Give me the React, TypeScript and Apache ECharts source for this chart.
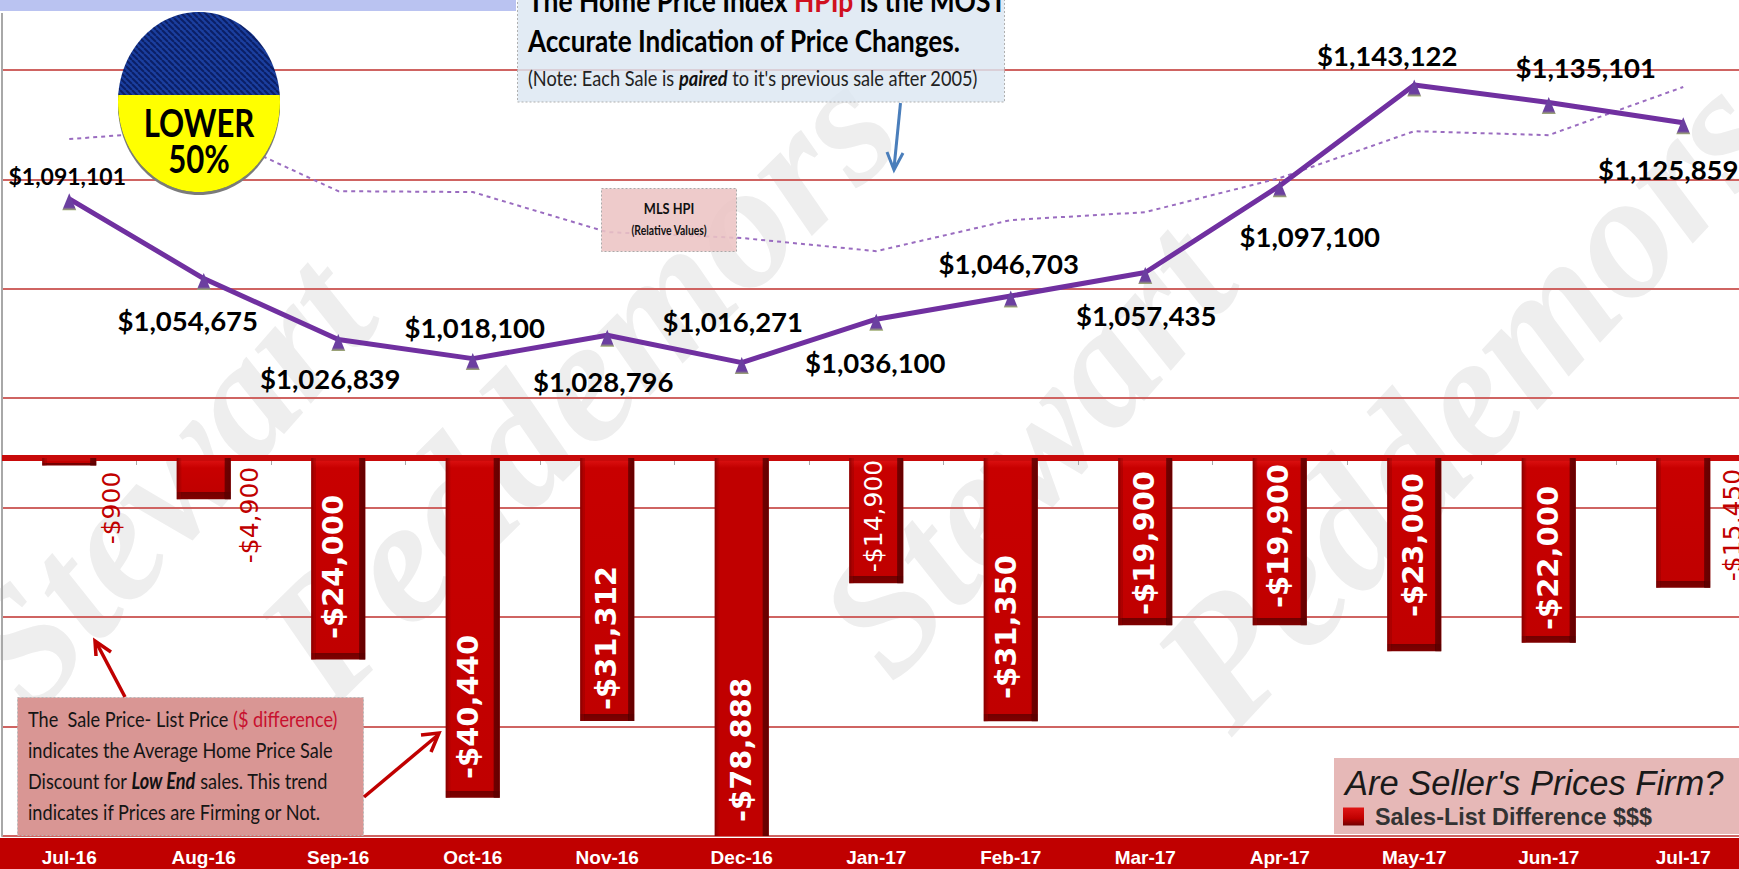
import React, { useEffect, useRef } from "react";
import * as echarts from "echarts";

const categories = ["Jul-16","Aug-16","Sep-16","Oct-16","Nov-16","Dec-16","Jan-17","Feb-17","Mar-17","Apr-17","May-17","Jun-17","Jul-17"];
const medianPrice = [1091101,1054675,1026839,1018100,1028796,1016271,1036100,1046703,1057435,1097100,1143122,1135101,1125859];
const hpiRelative = [1118400,1123000,1094600,1094200,1075900,1073200,1067200,1081400,1085000,1100600,1122000,1120200,1142200];
const saleListDiff = [-900,-4900,-24000,-40440,-31312,-78888,-14900,-31350,-19900,-19900,-23000,-22000,-15450];

// label placement, kept apart from the values
const priceLabelOffsets = [[-2,-26],[-16,39],[-8,36],[2,-34],[-4,43],[-9,-44],[-1,40],[-2,-36],[1,40],[30,48],[-27,-32],[37,-38],[-15,44]];
const priceLabelSizes = [23,27.5,27.5,27.5,27.5,27.5,27.5,27.5,27.5,27.5,27.5,27.5,27.5];
const diffLabelAnchors = [-5950,-6790,-12976,-29640,-21430,-34760,-6900,-20120,-10120,-9290,-10360,-11900,-7980];
const diffLabelDx = [42,46,-5,-5,-1,-1,-3,-5,-1,-2,-1,-1,49];
const diffLabelStyle = ["outS","outS","big","big","big","big","inS","big","big","big","big","big","outS"];

const money = (v: number) => (v < 0 ? "-$" : "$") + Math.abs(v).toLocaleString("en-US");

const DIFF_MIN = -45000;
const DIFF_MAX = 52976;
const PX_PER_DOLLAR = 823 / (DIFF_MAX - DIFF_MIN);

function barFill(v: number) {
  if (v <= DIFF_MIN) {
    const h = -DIFF_MIN * PX_PER_DOLLAR;
    return new echarts.graphic.LinearGradient(0, 0, 0, 1, [
      { offset: 0, color: "#e01515" }, { offset: 10 / h, color: "#c00000" }, { offset: 1, color: "#c00000" },
    ]);
  }
  const h = -v * PX_PER_DOLLAR;
  const top = Math.min(0.3, 10 / h);
  const bot = Math.max(0.7, 1 - 7 / h);
  return new echarts.graphic.LinearGradient(0, 0, 0, 1, [
    { offset: 0, color: "#e01515" }, { offset: top, color: "#c80000" }, { offset: bot, color: "#c00000" },
    { offset: bot, color: "#720000" }, { offset: 1, color: "#800000" },
  ]);
}

function hatch() {
  const c = document.createElement("canvas");
  c.width = 6; c.height = 6;
  const g = c.getContext("2d")!;
  g.fillStyle = "#1b3f9f"; g.fillRect(0, 0, 6, 6);
  g.strokeStyle = "#0b1f66"; g.lineWidth = 2;
  for (const o of [-6, 0, 6]) { g.beginPath(); g.moveTo(o, 0); g.lineTo(o + 6, 6); g.stroke(); }
  return c;
}

const LATO = "Lato, 'Open Sans', sans-serif";
const txt = (text: string, x: number, y: number, font: string, fill: string, extra: any = {}, z = 100) => ({
  type: "text", z, x, y, rotation: extra.rotation || 0, scaleX: extra.scaleX || 1, scaleY: extra.scaleY || 1,
  style: { text, font, fill, textAlign: extra.align || "left", textVerticalAlign: "middle", rich: extra.rich },
});
const arrow = (pts: number[][], head: number[][], stroke: string, w: number) => [
  { type: "line", z: 90, shape: { x1: pts[0][0], y1: pts[0][1], x2: pts[1][0], y2: pts[1][1] }, style: { stroke, lineWidth: w } },
  { type: "polyline", z: 90, shape: { points: head }, style: { stroke, lineWidth: w, fill: "none" } },
];

export default function App() {
  const ref = useRef<HTMLDivElement>(null);
  useEffect(() => {
    const chart = echarts.init(ref.current!, undefined, { renderer: "svg" });
    const wmS = "italic bold 170px 'Liberation Serif', serif";
    const wmP = "italic bold 178px 'Liberation Serif', serif";
    const wmc = "#eeeeee";
    const note = { a: { fontSize: 21, fontFamily: "Lato", fill: "#222" },
                   i: { fontSize: 21, fontFamily: "Lato", fontStyle: "italic", fontWeight: "bold", fill: "#111" } };
    const box = { a: { fontSize: 22, fontFamily: "Lato", fill: "#151515" }, r: { fontSize: 22, fontFamily: "Lato", fill: "#c8102e" },
                  i: { fontSize: 22, fontFamily: "Lato", fontStyle: "italic", fontWeight: "bold", fill: "#111" } };
    const elements: any[] = [
      txt("Stewart", 166, 482, wmS, wmc, { rotation: 0.85, align: "center" }, -10),
      txt("Peddemors", 577, 383, wmP, wmc, { rotation: 0.78, align: "center" }, -10),
      txt("Stewart", 1026, 449, wmS, wmc, { rotation: 0.85, align: "center" }, -10),
      txt("Peddemors", 1464, 400, wmP, wmc, { rotation: 0.82, align: "center" }, -10),

      { type: "rect", z: -5, shape: { x: 0, y: 838, width: 1739, height: 31 }, style: { fill: "#c00000" } },

      { type: "rect", z: 80, shape: { x: 0, y: 0, width: 525, height: 13 }, style: { fill: "#ffffff" } },
      { type: "rect", z: 81, shape: { x: 0, y: 0, width: 516, height: 11 }, style: { fill: "#bac3f1" } },

      { type: "rect", z: 82, shape: { x: 517.5, y: -2, width: 487, height: 104 },
        style: { fill: "rgba(220,230,242,0.82)", stroke: "#b0b0b0", lineWidth: 1, lineDash: [2, 2] } },
      txt("{a|The Home Price Index }{r|HPIp}{a| is the MOST}", 528, 0, `bold 30px ${LATO}`, "#000", {
        scaleX: 0.88,
        rich: { a: { fontSize: 30, fontWeight: "bold", fontFamily: "Lato", fill: "#000" },
                r: { fontSize: 30, fontWeight: "bold", fontFamily: "Lato", fill: "#d01020" } } }),
      txt("Accurate Indication of Price Changes.", 528, 40, `bold 30px ${LATO}`, "#000", { scaleX: 0.87 }),
      txt("{a|(Note: Each Sale is }{i|paired}{a| to it's previous sale after 2005)}", 528, 78, `21px ${LATO}`, "#222", { scaleX: 0.866, rich: note }),

      { type: "ellipse", z: 83, shape: { cx: 199, cy: 105, rx: 81, ry: 90 }, style: { fill: "#7b7b7b" } },
      { type: "ellipse", z: 84, shape: { cx: 199, cy: 102, rx: 81, ry: 90 }, style: { fill: { image: hatch(), repeat: "repeat" } } },
      { type: "ellipse", z: 85, shape: { cx: 199, cy: 102, rx: 81, ry: 90 }, style: { fill: new echarts.graphic.LinearGradient(0, 0, 0, 1, [
        { offset: 0, color: "rgba(255,255,0,0)" }, { offset: 0.46, color: "rgba(255,255,0,0)" }, { offset: 0.46, color: "#ffff00" }, { offset: 1, color: "#ffff00" },
      ]) } },
      txt("LOWER", 199, 122, `bold 38px ${LATO}`, "#000", { align: "center", scaleX: 0.82 }, 86),
      txt("50%", 199, 158, `bold 38px ${LATO}`, "#000", { align: "center", scaleX: 0.82 }, 86),

      { type: "rect", z: 82, shape: { x: 601.5, y: 188.5, width: 135, height: 63 },
        style: { fill: "rgba(236,196,196,0.88)", stroke: "#aaaaaa", lineWidth: 1, lineDash: [2, 2] } },
      txt("MLS HPI", 669, 208, `bold 16px ${LATO}`, "#111", { align: "center", scaleX: 0.8 }),
      txt("(Relative Values)", 669, 230, `bold 13px ${LATO}`, "#111", { align: "center", scaleX: 0.8 }),

      ...arrow([[900.5, 103], [894, 168]], [[887, 152], [894, 170], [903, 153]], "#4a7ebb", 3),
      ...arrow([[125, 697], [96, 642]], [[96, 656], [95, 641], [111, 652]], "#c00000", 3.5),
      ...arrow([[364, 797], [438, 735]], [[421, 735], [439, 733], [431, 752]], "#c00000", 3.5),

      { type: "rect", z: 82, shape: { x: 17.5, y: 697.5, width: 346, height: 138 },
        style: { fill: "#d99694", stroke: "#b8b8b8", lineWidth: 1, lineDash: [2, 2] } },
      txt("{a|The  Sale Price- List Price }{r|($ difference)}", 28, 718, `22px ${LATO}`, "#111", { scaleX: 0.825, rich: box }),
      txt("indicates the Average Home Price Sale", 28, 749, `22px ${LATO}`, "#151515", { scaleX: 0.825 }),
      txt("{a|Discount for }{i|Low End}{a| sales. This trend}", 28, 780, `22px ${LATO}`, "#111", { scaleX: 0.825, rich: box }),
      txt("indicates if Prices are Firming or Not.", 28, 811, `22px ${LATO}`, "#151515", { scaleX: 0.825 }),

      { type: "rect", z: 82, shape: { x: 1334, y: 758, width: 405, height: 76 }, style: { fill: "#e6b8b7" } },
      txt("Are Seller's Prices Firm?", 1345, 783, "italic 34.5px 'Liberation Sans', Arial, sans-serif", "#1a1a1a"),
    ];

    const option: any = {
      animation: false,
      backgroundColor: "#fff",
      textStyle: { fontFamily: "Liberation Sans, Arial, sans-serif" },
      legend: {
        show: true, left: 1338, top: 800, z: 120, itemWidth: 21, itemHeight: 18, selectedMode: false,
        data: [{ name: "Sales-List Difference $$$", icon: "rect",
                 itemStyle: { color: new echarts.graphic.LinearGradient(0, 0, 0, 1, [{ offset: 0, color: "#e01515" }, { offset: 0.6, color: "#c00000" }, { offset: 1, color: "#700000" }]) } }],
        textStyle: { fontFamily: "Liberation Sans", fontWeight: "bold", fontSize: 23.4, color: "#333", padding: [0, 0, 0, 6] },
      },
      grid: { left: 2, top: 13, width: 1748.5, height: 823, containLabel: false },
      xAxis: {
        type: "category", data: categories, boundaryGap: true,
        axisLine: { show: true, lineStyle: { color: "#a8a8a8", width: 2 } },
        axisTick: { show: true, length: 7, lineStyle: { color: "#a8a8a8", width: 1 } },
        axisLabel: { color: "#fff", fontFamily: "Liberation Sans", fontWeight: "bold", fontSize: 19, margin: 12, interval: 0 },
        splitLine: { show: false },
      },
      yAxis: [
        {
          type: "value", min: 800000, max: 1176000, interval: 50000,
          axisLine: { show: true, lineStyle: { color: "#a8a8a8", width: 2 } }, axisTick: { show: false }, axisLabel: { show: false },
          splitLine: { show: true, showMaxLine: false, lineStyle: { color: "#cf6462", width: 2 } },
        },
        {
          type: "value", min: DIFF_MIN, max: DIFF_MAX,
          axisLine: { show: false }, axisTick: { show: false }, axisLabel: { show: false }, splitLine: { show: false },
        },
      ],
      series: [
        {
          name: "Sales-List Difference $$$", type: "bar", yAxisIndex: 1, barWidth: 54, barGap: "-100%", z: 3,
          itemStyle: { color: "#c00000" },
          data: saleListDiff.map((v) => ({ value: v, itemStyle: { color: barFill(v) } })),
          markLine: {
            silent: true, symbol: "none", z: 4, label: { show: false },
            lineStyle: { color: "#c80a0a", width: 6, type: "solid" }, data: [{ yAxis: 0 }],
          },
        },
        {
          name: "bevel", type: "bar", yAxisIndex: 1, barWidth: 54, barGap: "-100%", z: 4, silent: true,
          itemStyle: { color: new echarts.graphic.LinearGradient(0, 0, 1, 0, [
            { offset: 0, color: "rgba(110,0,0,0.75)" }, { offset: 0.07, color: "rgba(150,0,0,0.35)" }, { offset: 0.09, color: "rgba(0,0,0,0)" },
            { offset: 0.88, color: "rgba(0,0,0,0)" }, { offset: 0.9, color: "rgba(90,0,0,0.8)" }, { offset: 1, color: "rgba(90,0,0,0.9)" },
          ]) },
          data: saleListDiff,
        },
        {
          name: "HPI", type: "line", yAxisIndex: 0, z: 5, symbol: "none", smooth: false,
          lineStyle: { color: "#9a6cc0", width: 2, type: [4, 4] }, data: hpiRelative,
        },
        {
          name: "Price", type: "line", yAxisIndex: 0, z: 6, smooth: false, symbol: "triangle", symbolSize: [14, 17], symbolOffset: [0, 3],
          lineStyle: { color: "#7030a0", width: 5 },
          itemStyle: { color: new echarts.graphic.LinearGradient(0, 0, 0, 1, [{ offset: 0, color: "#6b3fa0" }, { offset: 0.82, color: "#6b3fa0" }, { offset: 1, color: "#a3b56f" }]) },
          data: medianPrice.map((v, i) => ({
            value: v,
            label: {
              show: true, position: "inside", offset: priceLabelOffsets[i], formatter: money(v),
              fontFamily: "Lato", fontWeight: "bold", fontSize: priceLabelSizes[i], color: "#000",
            },
          })),
        },
        {
          name: "diffLabels", type: "scatter", yAxisIndex: 1, z: 7, symbolSize: 0, silent: true, clip: false,
          itemStyle: { opacity: 1 },
          data: saleListDiff.map((v, i) => {
            const s = diffLabelStyle[i];
            return {
              value: [categories[i], diffLabelAnchors[i]],
              label: {
                show: true, position: "inside", rotate: 90, offset: [0, diffLabelDx[i]], formatter: money(v), opacity: 1,
                fontFamily: "DejaVu Sans", fontWeight: s === "big" ? "bold" : "normal", fontSize: s === "big" ? 29 : 25,
                color: s === "outS" ? "#c00000" : "#fff", textBorderWidth: 0,
              },
            };
          }),
        },
      ],
      graphic: { elements },
    };
    chart.setOption(option);
    return () => chart.dispose();
  }, []);
  return (
    <div style={{ position: "absolute", left: 0, top: 0, width: 1739, height: 869, overflow: "hidden" }}>
      <div ref={ref} style={{ width: 1800, height: 869 }} />
    </div>
  );
}
